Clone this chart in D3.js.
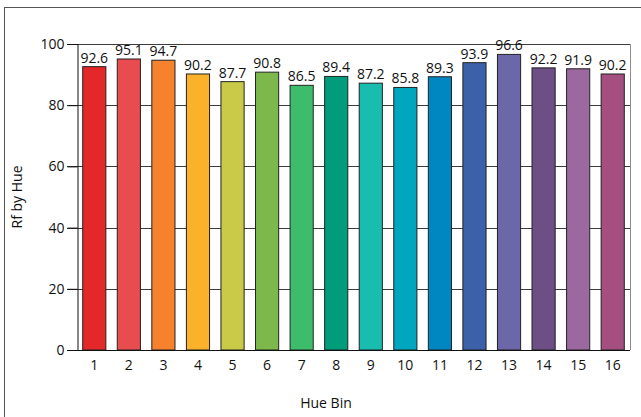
<!DOCTYPE html>
<html>
<head>
<meta charset="utf-8">
<script src="https://cdn.jsdelivr.net/npm/d3@7"></script>
<style>
  body { margin: 0; background: #fff; }
  text { font-family: "Open Sans", sans-serif; fill: #111; }
</style>
</head>
<body>
<script>
// 数据
let bins = ["1","2","3","4","5","6","7","8","9","10","11","12","13","14","15","16"];
let rfValues = [92.6,95.1,94.7,90.2,87.7,90.8,86.5,89.4,87.2,85.8,89.3,93.9,96.6,92.2,91.9,90.2];
let barColors = ["#e4282a","#e84c4f","#f6822e","#fbb12a","#c9ca48","#7db84c","#3dbd6b","#009c7b",
                 "#18bdb0","#00a5be","#0086c0","#3c61a8","#6c67a9","#6d4e85","#9b68a0","#a44f80"];
let yTicks = [0,20,40,60,80,100];

let width = 641, height = 417;
let pLeft = 77, pRight = 630, pTop = 44, pBottom = 350;

let svg = d3.select('body').append('svg')
    .attr('width', width)
    .attr('height', height);

// 外框
svg.append('rect')
    .attr('x', 4.5).attr('y', 7.5)
    .attr('width', 660).attr('height', 430)
    .attr('fill', 'none')
    .attr('stroke', '#555')
    .attr('stroke-width', 1);

let x = d3.scaleBand().domain(bins).range([pLeft, pRight]).paddingInner(0.33).paddingOuter(0.165);
let y = d3.scaleLinear().domain([0, 100]).range([pBottom, pTop]);

// 网格线
svg.selectAll('line.grid')
    .data(yTicks.filter(d => d > 0))
    .enter()
    .append('line')
    .attr('class', 'grid')
    .attr('x1', pLeft - 10).attr('x2', pRight)
    .attr('y1', d => Math.round(y(d)) + 0.5)
    .attr('y2', d => Math.round(y(d)) + 0.5)
    .attr('stroke', '#3c3c3c')
    .attr('stroke-width', 1);

// 右边框
svg.append('line')
    .attr('x1', pRight + 0.5).attr('x2', pRight + 0.5)
    .attr('y1', pTop).attr('y2', pBottom)
    .attr('stroke', '#8c8c8c');

// 柱子
svg.selectAll('rect.bar')
    .data(rfValues)
    .enter()
    .append('rect')
    .attr('class', 'bar')
    .attr('x', (d, i) => x(bins[i]))
    .attr('y', d => y(d))
    .attr('width', x.bandwidth())
    .attr('height', d => pBottom - y(d))
    .attr('fill', (d, i) => barColors[i])
    .attr('stroke', '#222')
    .attr('stroke-width', 1);

// 数值标签
svg.selectAll('text.val')
    .data(rfValues)
    .enter()
    .append('text')
    .attr('class', 'val')
    .attr('text-anchor', 'middle')
    .attr('font-size', '14px')
    .attr('x', (d, i) => x(bins[i]) + x.bandwidth() / 2)
    .attr('y', d => y(d) - 4)
    .text(d => d.toFixed(1));

// 坐标轴
let axisY = d3.axisLeft(y).tickValues(yTicks).tickSize(10).tickPadding(3);
let gy = svg.append('g').attr('transform', `translate(${pLeft + 0.5},0)`).call(axisY);
gy.select('.domain').attr('stroke', '#111');
gy.selectAll('.tick line').attr('stroke', '#111');
gy.selectAll('text').attr('font-size', '14px').attr('font-family', '"Open Sans", sans-serif').attr('fill', '#111');

let axisX = d3.axisBottom(x).tickSize(0).tickPadding(10);
let gx = svg.append('g').attr('transform', `translate(0,${pBottom + 0.5})`).call(axisX);
gx.select('.domain').attr('stroke', '#111').attr('d', `M${pLeft - 10},0H${pRight}`);
gx.selectAll('text').attr('font-size', '14px').attr('font-family', '"Open Sans", sans-serif').attr('fill', '#111');

// 轴标题
svg.append('text')
    .attr('x', 326)
    .attr('y', 408)
    .attr('text-anchor', 'middle')
    .attr('font-size', '14px')
    .text('Hue Bin');

svg.append('text')
    .attr('transform', `translate(22,${(pTop + pBottom) / 2}) rotate(-90)`)
    .attr('text-anchor', 'middle')
    .attr('font-size', '14px')
    .text('Rf by Hue');
</script>
</body>
</html>
